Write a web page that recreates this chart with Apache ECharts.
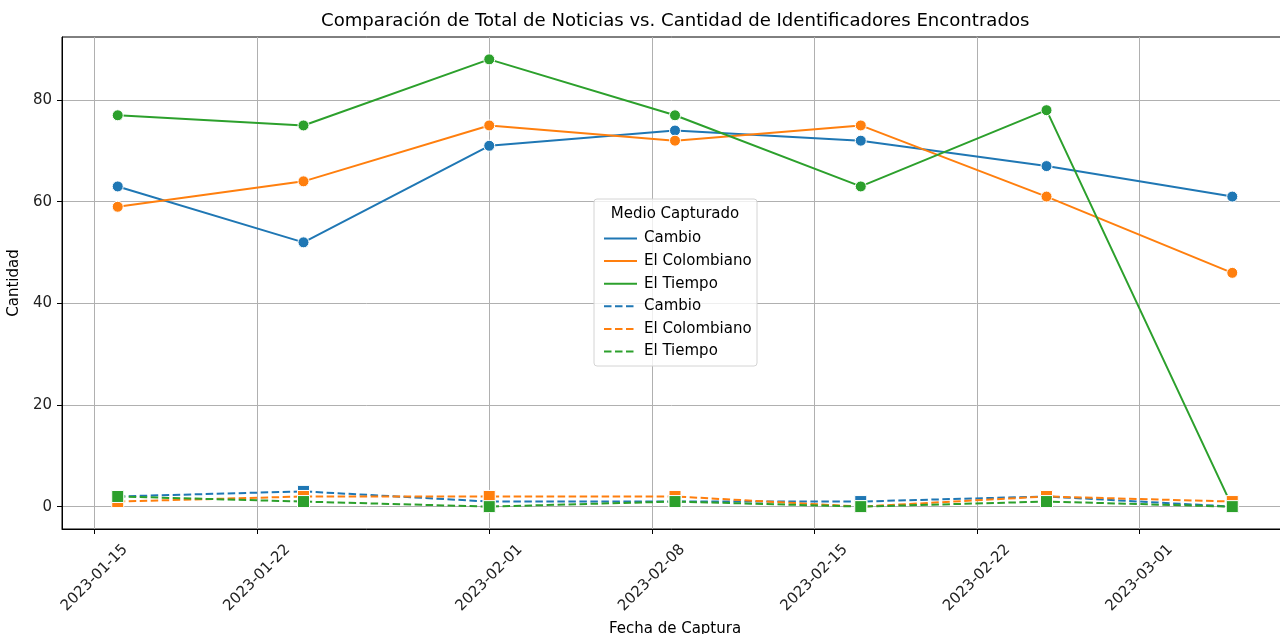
<!DOCTYPE html>
<html>
<head>
<meta charset="utf-8">
<script src="https://cdn.jsdelivr.net/npm/echarts@6/dist/echarts.min.js"></script>
<style>
  html, body { margin: 0; padding: 0; background: #fff; }
  #chart { width: 1280px; height: 634px; }
</style>
</head>
<body>
<div id="chart"></div>
<script>
// fechas de captura
var fechas = ['2023-01-16', '2023-01-24', '2023-02-01', '2023-02-09', '2023-02-17', '2023-02-25', '2023-03-05'];

// total de noticias
var totalCambio = [63, 52, 71, 74, 72, 67, 61];
var totalColombiano = [59, 64, 75, 72, 75, 61, 46];
var totalTiempo = [77, 75, 88, 77, 63, 78, 0];

// identificadores encontrados
var idsCambio = [2, 3, 1, 1, 1, 2, 0];
var idsColombiano = [1, 2, 2, 2, 0, 2, 1];
var idsTiempo = [2, 1, 0, 1, 0, 1, 0];

// etiquetas de los ejes
var xTicks = ['2023-01-15', '2023-01-22', '2023-02-01', '2023-02-08', '2023-02-15', '2023-02-22', '2023-03-01'];
var yTicks = [0, 20, 40, 60, 80];

var colores = ['#1f77b4', '#ff7f0e', '#2ca02c'];
var fuente = 'DejaVu Sans';
var DIA = 24 * 3600 * 1000;

function toTs(s) {
    var p = s.split('-');
    return Date.UTC(+p[0], +p[1] - 1, +p[2]);
}
function pad(n) { return n < 10 ? '0' + n : '' + n; }
function fmt(v) {
    var d = new Date(Math.round(v));
    return d.getUTCFullYear() + '-' + pad(d.getUTCMonth() + 1) + '-' + pad(d.getUTCDate());
}
function pares(vals) {
    return fechas.map(function (f, i) { return [toTs(f), vals[i]]; });
}

function serieTotal(nombre, vals, color) {
    return {
        name: nombre,
        type: 'line',
        data: pares(vals),
        symbol: 'circle',
        symbolSize: 11,
        color: color,
        lineStyle: { width: 2, color: color },
        itemStyle: { color: color, borderColor: '#fff', borderWidth: 1 },
        emphasis: { disabled: true },
        animation: false
    };
}
function serieIds(nombre, vals, color) {
    return {
        name: nombre,
        type: 'line',
        data: pares(vals),
        symbol: 'rect',
        symbolSize: 12,
        color: color,
        lineStyle: { width: 2, color: color, type: [7.5, 3.5] },
        itemStyle: { color: color, borderColor: '#fff', borderWidth: 1 },
        emphasis: { disabled: true },
        animation: false
    };
}

var myChart = echarts.init(document.getElementById('chart'));

var option = {
    animation: false,
    textStyle: { fontFamily: fuente },
    title: {
        text: 'Comparación de Total de Noticias vs. Cantidad de Identificadores Encontrados',
        left: 321,
        top: 12,
        padding: 0,
        textStyle: { fontFamily: fuente, fontSize: 18.1, fontWeight: 'normal', color: '#000' }
    },
    grid: {
        left: 62,
        right: -8,
        top: 37,
        bottom: 105,
        containLabel: false,
        outerBoundsMode: 'none',
        show: true,
        borderColor: '#000',
        borderWidth: 1
    },
    legend: {
        data: ['Cambio', 'El Colombiano', 'El Tiempo', 'Cambio ', 'El Colombiano ', 'El Tiempo '],
        orient: 'vertical',
        left: 598,
        top: 226,
        itemWidth: 33,
        itemHeight: 14,
        itemGap: 7.6,
        selectedMode: false,
        itemStyle: { opacity: 0 },
        textStyle: { fontFamily: fuente, fontSize: 15, color: '#000', padding: [0, 0, 0, 2] }
    },
    graphic: [
        {
            type: 'rect',
            z: 3,
            shape: { x: 594, y: 199, width: 163, height: 167, r: 3 },
            style: { fill: 'rgba(255,255,255,0.8)', stroke: '#d4d4d4', lineWidth: 1 }
        },
        {
            type: 'text',
            z: 5,
            x: 675,
            y: 214,
            style: {
                text: 'Medio Capturado',
                fontFamily: fuente,
                fontSize: 15,
                fill: '#000',
                align: 'center',
                verticalAlign: 'middle'
            }
        }
    ],
    xAxis: {
        type: 'value',
        min: toTs('2023-01-13') + 0.6 * DIA,
        max: toTs('2023-03-07') + 0.4 * DIA,
        name: 'Fecha de Captura',
        nameLocation: 'middle',
        nameGap: 87,
        nameTextStyle: { fontFamily: fuente, fontSize: 15, color: '#000' },
        axisLine: { show: true, onZero: false, lineStyle: { color: '#000', width: 1 } },
        axisTick: { show: true, length: 5, lineStyle: { color: '#000' }, customValues: xTicks.map(toTs) },
        axisLabel: {
            customValues: xTicks.map(toTs),
            formatter: function (v) { return fmt(v); },
            rotate: 45,
            align: 'center',
            verticalAlign: 'middle',
            margin: 49,
            fontFamily: fuente,
            fontSize: 15,
            color: '#222'
        },
        splitLine: { show: true, lineStyle: { color: '#b0b0b0', width: 1 } }
    },
    yAxis: {
        type: 'value',
        min: -4.4,
        max: 92.4,
        name: 'Cantidad',
        nameLocation: 'middle',
        nameGap: 27,
        nameTextStyle: { fontFamily: fuente, fontSize: 15, color: '#000' },
        axisLine: { show: true, onZero: false, lineStyle: { color: '#000', width: 1 } },
        axisTick: { show: true, length: 5, lineStyle: { color: '#000' }, customValues: yTicks },
        axisLabel: {
            customValues: yTicks,
            margin: 10,
            fontFamily: fuente,
            fontSize: 15,
            color: '#222'
        },
        splitLine: { show: true, lineStyle: { color: '#b0b0b0', width: 1 } }
    },
    series: [
        serieTotal('Cambio', totalCambio, colores[0]),
        serieTotal('El Colombiano', totalColombiano, colores[1]),
        serieTotal('El Tiempo', totalTiempo, colores[2]),
        serieIds('Cambio ', idsCambio, colores[0]),
        serieIds('El Colombiano ', idsColombiano, colores[1]),
        serieIds('El Tiempo ', idsTiempo, colores[2])
    ]
};

myChart.setOption(option);
</script>
</body>
</html>
